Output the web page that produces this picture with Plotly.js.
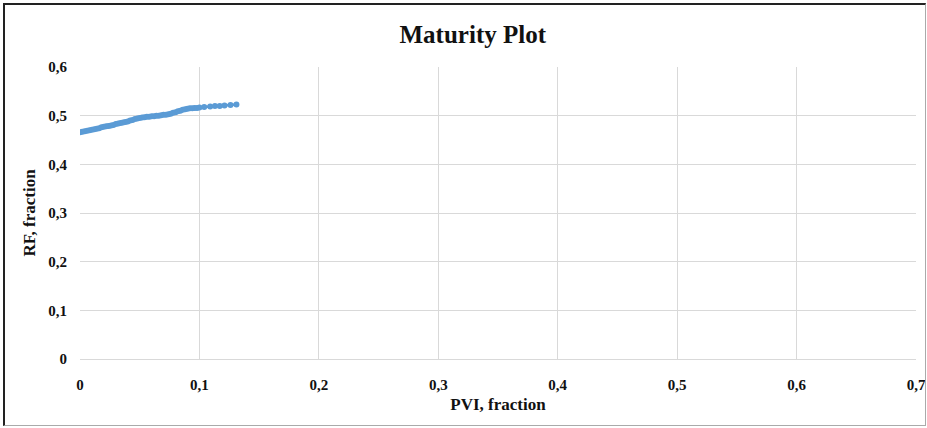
<!DOCTYPE html>
<html><head><meta charset="utf-8">
<script src="https://cdn.plot.ly/plotly-3.0.1.min.js"></script>
<style>body{margin:0;background:#fff}#c{width:927px;height:428px;position:absolute;left:0;top:0}
#b{position:absolute;left:3px;top:3px;width:920px;height:420px;border-left:2px solid #222;border-top:2px solid #222;border-right:1px solid #aaa;border-bottom:1px solid #aaa;pointer-events:none}</style>
</head><body><div id="c"></div><div id="b"></div>
<script>
const pvi = [0.000,0.002,0.004,0.006,0.008,0.010,0.012,0.014,0.016,0.018,0.020,0.022,0.024,0.026,0.028,0.030,0.032,0.034,0.036,0.038,0.040,0.042,0.044,0.046,0.048,0.050,0.052,0.054,0.056,0.058,0.060,0.062,0.064,0.066,0.068,0.070,0.072,0.074,0.076,0.078,0.080,0.082,0.084,0.086,0.088,0.090,0.092,0.094,0.096,0.098,0.100,0.104,0.109,0.113,0.117,0.121,0.126,0.131];
const rf = [0.466,0.467,0.468,0.469,0.470,0.471,0.472,0.473,0.474,0.476,0.477,0.478,0.479,0.480,0.481,0.483,0.484,0.485,0.486,0.487,0.488,0.490,0.491,0.493,0.494,0.495,0.496,0.497,0.498,0.498,0.499,0.499,0.500,0.500,0.501,0.502,0.502,0.503,0.504,0.506,0.507,0.509,0.510,0.512,0.513,0.514,0.515,0.515,0.516,0.516,0.517,0.518,0.519,0.520,0.520,0.521,0.522,0.523];
const xTicks = [0,0.1,0.2,0.3,0.4,0.5,0.6,0.7];
const yTicks = [0,0.1,0.2,0.3,0.4,0.5,0.6];
const F = 'Liberation Serif, Times New Roman, serif';
Plotly.newPlot('c', [{
  x: pvi, y: rf, mode: 'lines+markers', type: 'scatter',
  line: {color: '#5b9bd5', width: 2.5},
  marker: {color: '#5b9bd5', size: 6}
}], {
  width: 927, height: 428,
  margin: {l: 80, r: 11, t: 67, b: 69},
  separators: ', ',
  paper_bgcolor: '#fff', plot_bgcolor: '#fff',
  showlegend: false,
  title: {text: '<b>Maturity Plot</b>', font: {family: F, size: 25, color: '#111'}, x: 0.51, xanchor: 'center', y: 0.92, yanchor: 'middle'},
  xaxis: {range: [0, 0.7], tickvals: xTicks, ticktext: xTicks.map(v => v === 0 ? '0' : String(v).replace('.', ',')),
    showgrid: true, gridcolor: '#d9d9d9', gridwidth: 1, zeroline: false,
    showline: true, linecolor: '#d9d9d9', ticks: '', ticklabelstandoff: 12,
    tickfont: {family: F, size: 15, color: '#111', weight: 'bold'},
    title: {text: '<b>PVI, fraction</b>', font: {family: F, size: 17, color: '#111'}, standoff: 6}},
  yaxis: {range: [0, 0.6], tickvals: yTicks, ticktext: yTicks.map(v => v === 0 ? '0' : String(v).replace('.', ',')),
    showgrid: true, gridcolor: '#d9d9d9', gridwidth: 1, zeroline: false,
    showline: false, ticks: '', ticklabelstandoff: 12,
    tickfont: {family: F, size: 15, color: '#111', weight: 'bold'},
    title: {text: '<b>RF, fraction</b>', font: {family: F, size: 17, color: '#111'}, standoff: 8}}
}, {displayModeBar: false, staticPlot: true});
</script></body></html>
